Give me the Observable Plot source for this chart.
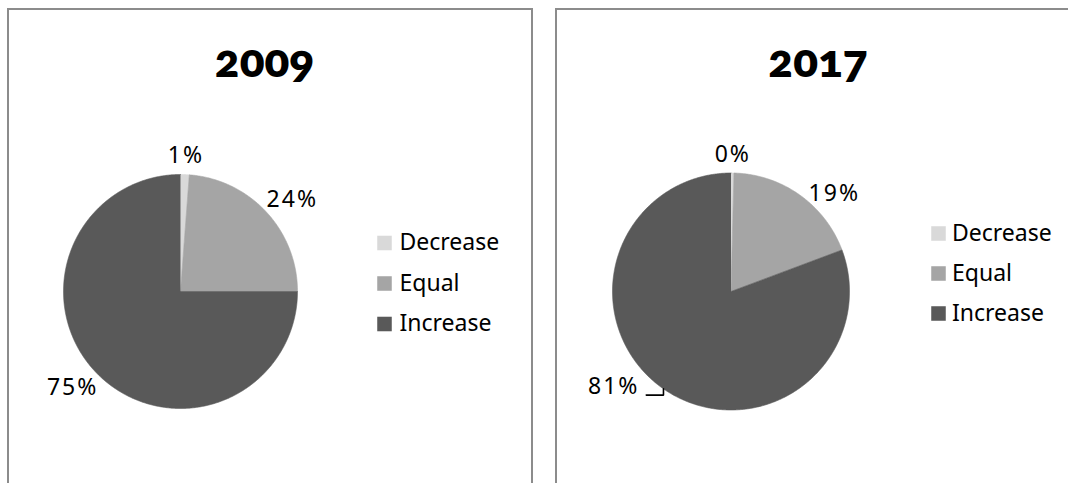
<!DOCTYPE html>
<html><head><meta charset="utf-8">
<script src="https://cdn.jsdelivr.net/npm/d3@7"></script>
<script src="https://cdn.jsdelivr.net/npm/@observablehq/plot@0.6"></script>
<style>
html,body{margin:0;padding:0;background:#fff;}
body{width:1068px;height:483px;overflow:hidden;position:relative;font-family:"Noto Sans",sans-serif;}
.panel{position:absolute;top:8px;width:526px;height:490px;box-sizing:border-box;border:2px solid #8c8c8c;border-bottom:none;background:#fff;}
#p1{left:7px;} #p2{left:555px;}
.panel svg{display:block;}
</style></head><body>
<div class="panel" id="p1"></div><div class="panel" id="p2"></div>
<script>
// ---- data ----
const years = ["2009", "2017"];
const categories = ["Decrease", "Equal", "Increase"];
const colors = ["#d9d9d9", "#a5a5a5", "#595959"];
const values2009 = [1.2, 23.8, 75.0];
const values2017 = [0.4, 18.9, 80.7];

// ---- layout (pixels, per panel) ----
const W = 522, H = 473;
const panels = [
  {id: "p1", year: years[0], values: values2009, cx: 171, cy: 281, r: 117, titleDx: -6,
   legendTop: -48.5, legendStep: 40.5, swatchDx: 204, textDx: 219, nudges: {}},
  {id: "p2", year: years[1], values: values2017, cx: 173.5, cy: 281, r: 118.5, titleDx: -0.5,
   legendTop: -58, legendStep: 40, swatchDx: 207.5, textDx: 221,
   nudges: {Equal: {dx: 14, dy: 14}, Increase: {dx: -29.5, dy: -17, leader: true}}}
];

for (const p of panels) {
  const rows = categories.map((c, i) => ({category: c, value: p.values[i]}));
  const arcs = d3.pie().sort(null).value(d => d.value)(rows);

  // slice polygons (unit circle, y up, angle clockwise from 12 o'clock)
  const poly = arcs.flatMap(a => {
    const c = a.data.category;
    const pts = [{category: c, x: 0, y: 0}];
    const n = Math.max(2, Math.ceil((a.endAngle - a.startAngle) / (Math.PI / 360)));
    for (let k = 0; k <= n; k++) {
      const t = a.startAngle + (a.endAngle - a.startAngle) * k / n;
      pts.push({category: c, x: Math.sin(t), y: Math.cos(t)});
    }
    return pts;
  });

  // data labels, outside end
  const leaders = [];
  const labels = arcs.map(a => {
    const m = (a.startAngle + a.endAngle) / 2;
    const text = Math.round(a.data.value) + "%";
    const hw = 8.5 * text.length, hh = 8.5, pad = 10;
    const nud = p.nudges[a.data.category] || {dx: 0, dy: 0};
    const px = Math.sin(m) * (p.r + pad + hw) + nud.dx;
    const py = -Math.cos(m) * (p.r + pad + hh) + nud.dy;
    if (nud.leader) {
      const ex = p.r * Math.sin(m), ey = -p.r * Math.cos(m);
      const ly = py + 8;
      [[px + hw + 7, ly], [ex, ly], [ex, ey]].forEach(([u, v]) =>
        leaders.push({category: a.data.category, x: u / p.r, y: -v / p.r}));
    }
    return {category: a.data.category, text, x: px / p.r, y: -py / p.r};
  });

  const legend = categories.map((c, i) => ({
    category: c,
    sx: p.swatchDx / p.r,
    tx: p.textDx / p.r,
    y: -(p.legendTop + i * p.legendStep) / p.r
  }));

  const chart = Plot.plot({
    width: W, height: H, margin: 0,
    x: {domain: [-1, 1], range: [p.cx - p.r, p.cx + p.r], axis: null},
    y: {domain: [-1, 1], range: [p.cy + p.r, p.cy - p.r], axis: null},
    color: {domain: categories, range: colors},
    style: {fontFamily: '"Noto Sans", sans-serif', background: "white", color: "black", overflow: "visible"},
    marks: [
      Plot.line(poly, {x: "x", y: "y", z: "category", fill: "category", stroke: "category", strokeWidth: 0.6, curve: "linear"}),
      Plot.line(leaders, {x: "x", y: "y", z: "category", stroke: "black", strokeWidth: 1.6}),
      Plot.text(labels, {x: "x", y: "y", text: "text", fontSize: 23, fill: "black"}),
      Plot.dot(legend, {x: "sx", y: "y", symbol: "square", r: 8.2, fill: "category"}),
      Plot.text(legend, {x: "tx", y: "y", text: "category", textAnchor: "start", fontSize: 23, fill: "black"}),
      Plot.text([p.year], {text: d => d, frameAnchor: "top", dx: p.titleDx, dy: 66, lineAnchor: "bottom",
        fontSize: 46, fontWeight: 800, fill: "black", fontFamily: "Lato", fontVariant: "oldstyle-nums"})
    ]
  });
  // slight tracking on the percentage labels (first text mark)
  const textGroups = chart.querySelectorAll('g[aria-label="text"]');
  if (textGroups.length) textGroups[0].setAttribute("letter-spacing", "2px");
  document.getElementById(p.id).appendChild(chart);
}
</script>
</body></html>
